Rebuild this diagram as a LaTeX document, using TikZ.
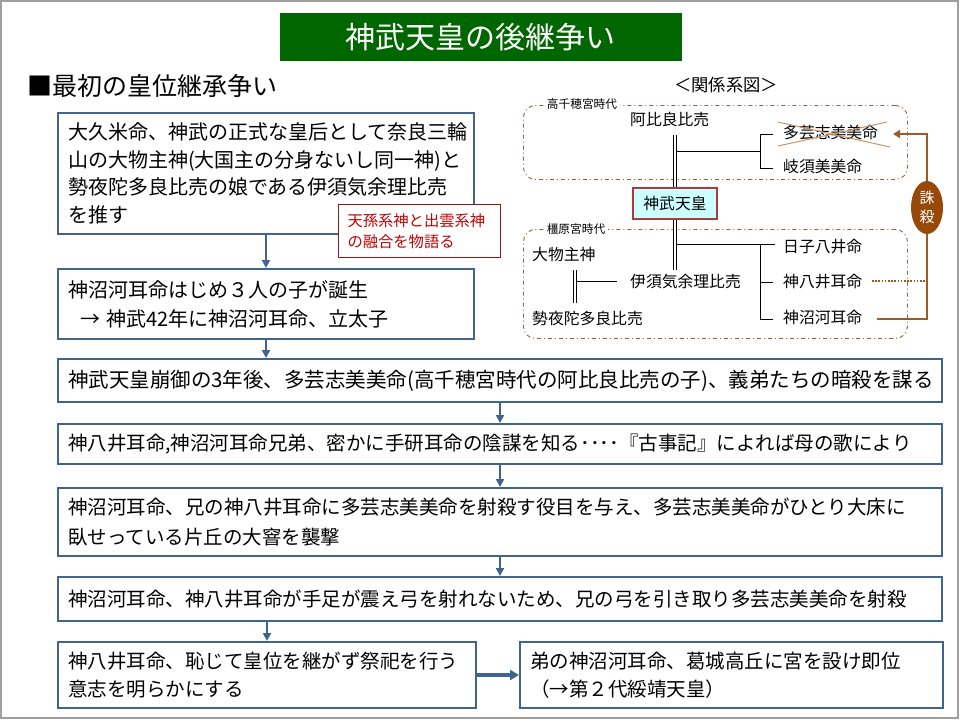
\documentclass[tikz,border=0pt]{standalone}
\usepackage{fontspec}
\setmainfont{Noto Sans CJK JP}
\usetikzlibrary{arrows.meta,shapes.geometric,calc}
\definecolor{flowc}{HTML}{41648F}
\definecolor{titleg}{HTML}{006600}
\definecolor{brn}{HTML}{9C5A25}
\definecolor{brnfill}{HTML}{984807}
\definecolor{dashc}{HTML}{8C6440}
\definecolor{crossc}{HTML}{C8946A}
\definecolor{jbord}{HTML}{B03A3A}
\definecolor{jfill}{HTML}{CCFFFF}
\definecolor{notec}{HTML}{C00000}
\definecolor{noteb}{HTML}{8B1A1A}
\definecolor{framec}{HTML}{A0A0A0}
\begin{document}
\begin{tikzpicture}[x=1pt,y=-1pt,
  flowbox/.style={draw=flowc, line width=2pt, fill=white, anchor=north west,
    inner xsep=10pt, inner ysep=0pt, align=left},
  bigtxt/.style={font=\fontsize{20}{27.7}\selectfont},
  midtxt/.style={font=\fontsize{19.5}{28}\selectfont},
  farrow/.style={draw=flowc, line width=2pt, -{Triangle[length=8pt,width=8pt]}},
  tree/.style={font=\fontsize{15.8}{18}\selectfont, inner sep=0pt, anchor=west},
  era/.style={fill=white, font=\fontsize{11.7}{13}\selectfont, inner xsep=3pt, inner ysep=0pt},
  eraframe/.style={draw=dashc, line width=0.9pt, dash pattern=on 4pt off 3pt on 1pt off 3pt,
    rounded corners=12pt, anchor=north west, inner sep=0pt},
  thinl/.style={draw=black, line width=0.9pt},
  dbl/.style={draw=black, double, double distance=2pt, line width=0.8pt},
  brnl/.style={draw=brn, line width=1.8pt},
]
\useasboundingbox (0,0) rectangle (960,721);
\draw[framec, line width=2pt] (1,1) rectangle (958,717.5);

% title and headings
\node[fill=titleg, text=white, minimum width=402pt, minimum height=48.5pt, inner sep=0pt,
  font=\fontsize{30}{34}\selectfont] (title) at (480.5,36.8) {神武天皇の後継争い};
\node[anchor=west, inner sep=0pt, font=\fontsize{25}{30}\selectfont] (head) at (27,86) {■最初の皇位継承争い};
\node[font=\fontsize{17.3}{20}\selectfont, inner sep=0pt] (rel) at (726,85) {＜関係系図＞};

% flow boxes
\node[flowbox, bigtxt, text width=396pt, minimum height=121pt] (b1) at (57,112)
  {大久米命、神武の正式な皇后として奈良三輪\\山の大物主神(大国主の分身ないし同一神)と\\勢夜陀多良比売の娘である伊須気余理比売\\を推す};
\node[draw=noteb, line width=1pt, fill=white, anchor=north west, text width=144pt,
  inner xsep=9pt, inner ysep=0pt, minimum height=53pt, align=left, text=notec,
  font=\fontsize{15.3}{21}\selectfont] (note) at (338,204) {天孫系神と出雲系神\\の融合を物語る};
\node[flowbox, bigtxt, text width=396pt, minimum height=70pt, font=\fontsize{20}{29}\selectfont] (b2) at (57,268)
  {神沼河耳命はじめ３人の子が誕生\\\hspace*{12pt}→ 神武42年に神沼河耳命、立太子};
\node[flowbox, text width=864pt, minimum height=43pt, font=\fontsize{20.5}{28}\selectfont] (b3) at (57,358)
  {神武天皇崩御の3年後、多芸志美美命(高千穂宮時代の阿比良比売の子)、義弟たちの暗殺を謀る};
\node[flowbox, midtxt, text width=864pt, minimum height=40pt] (b4) at (57,423)
  {神八井耳命,神沼河耳命兄弟、密かに手研耳命の陰謀を知る････『古事記』によれば母の歌により};
\node[flowbox, midtxt, text width=864pt, minimum height=68pt, font=\fontsize{19.5}{30}\selectfont] (b5) at (57,487)
  {神沼河耳命、兄の神八井耳命に多芸志美美命を射殺す役目を与え、多芸志美美命がひとり大床に\\臥せっている片丘の大窨を襲撃};
\node[flowbox, midtxt, text width=864pt, minimum height=44pt] (b6) at (57,576)
  {神沼河耳命、神八井耳命が手足が震え弓を射れないため、兄の弓を引き取り多芸志美美命を射殺};
\node[flowbox, midtxt, text width=398pt, minimum height=66pt] (b7) at (57,641)
  {神八井耳命、恥じて皇位を継がず祭祀を行う\\意志を明らかにする};
\node[flowbox, midtxt, text width=403pt, minimum height=66pt] (b8) at (519,641)
  {弟の神沼河耳命、葛城高丘に宮を設け即位\\（→第２代綏靖天皇）};

% flow arrows
\draw[farrow] (b1.south) -- (b2.north);
\draw[farrow] (b2.south) -- (b2.south |- b3.north);
\draw[farrow] (b3.south) -- (b4.north);
\draw[farrow] (b4.south) -- (b5.north);
\draw[farrow] (b5.south) -- (b6.north);
\draw[farrow] (b7.north |- b6.south) -- (b7.north);
\draw[draw=flowc, line width=3.5pt, -{Triangle[length=9pt,width=10pt]}] (b7.east) -- (b8.west);

% relation diagram frames
\node[eraframe, minimum width=384pt, minimum height=74pt] (fr1) at (523,105) {};
\node[eraframe, minimum width=384pt, minimum height=109pt] (fr2) at (523,229) {};
\node[era] (era1) at (582,104) {高千穂宮時代};
\node[era] (era2) at (576,229) {橿原宮時代};

% relation diagram names
\node[tree] (abira) at (630,119) {阿比良比売};
\node[tree] (tagishi) at (783,133) {多芸志美美命};
\node[tree] (kisu) at (783,166) {岐須美美命};
\node[draw=jbord, line width=1.2pt, fill=jfill, minimum width=84pt, minimum height=31pt,
  inner sep=0pt, font=\fontsize{15.8}{18}\selectfont] (jimmu) at (675,203.5) {神武天皇};
\node[tree] (omono) at (532,254) {大物主神};
\node[tree] (seya) at (532,318) {勢夜陀多良比売};
\node[tree] (isuke) at (630,282) {伊須気余理比売};
\node[tree] (hiko) at (783,247) {日子八井命};
\node[tree] (kamuya) at (783,282) {神八井耳命};
\node[tree] (kamunu) at (783,317) {神沼河耳命};
\node[ellipse, fill=brnfill, minimum width=32pt, minimum height=53pt, inner sep=0pt,
  text=white, align=center, font=\fontsize{15}{19}\selectfont] (chu) at (927,207.5) {誅\\殺};

% tree connectors
\coordinate (dA) at (675,135);
\coordinate (dB) at (675,270);
\draw[dbl] (dA) -- (jimmu.north);
\draw[dbl] (jimmu.south) -- (dB);
\coordinate (j1) at (676.5,151);
\coordinate (k1) at (760,151);
\coordinate (k1t) at (760,134);
\coordinate (k1b) at (760,168);
\coordinate (t1a) at (773,134);
\coordinate (t1b) at (773,168);
\draw[thinl] (j1) -- (k1);
\draw[thinl] (t1a) -- (k1t) -- (k1b) -- (t1b);
\coordinate (j2) at (676.5,244);
\coordinate (t2a) at (775,244);
\coordinate (k2t) at (760,244);
\coordinate (k2m) at (760,282);
\coordinate (k2b) at (760,319);
\coordinate (t2m) at (773,282);
\coordinate (t2b) at (773,319);
\draw[thinl] (j2) -- (t2a);
\draw[thinl] (k2t) -- (k2b) -- (t2b);
\draw[thinl] (k2m) -- (t2m);
\coordinate (dC) at (575,270);
\coordinate (dD) at (575,303);
\draw[dbl] (dC) -- (dD);
\coordinate (j3) at (576.5,281);
\coordinate (t3) at (617,281);
\draw[thinl] (j3) -- (t3);

% brown connectors
\coordinate (p1) at (872,281);
\coordinate (p2) at (927,281);
\draw[brnl, dash pattern=on 1.6pt off 1.6pt] (p1) -- (p2);
\coordinate (q1) at (877,319);
\coordinate (q2) at (927,319);
\draw[brnl] (q1) -- (q2) -- (chu.south);
\coordinate (r1) at (927,134);
\coordinate (r2) at (893,134);
\draw[brnl, -{Triangle[length=7pt,width=8pt]}] (chu.north) -- (r1) -- (r2);

% cross on tagishi
\coordinate (x1) at (778,122);
\coordinate (x2) at (890,147);
\coordinate (x3) at (778,146);
\coordinate (x4) at (887,122);
\draw[crossc, line width=1pt] (x1) -- (x2) (x3) -- (x4);
\end{tikzpicture}
\end{document}
